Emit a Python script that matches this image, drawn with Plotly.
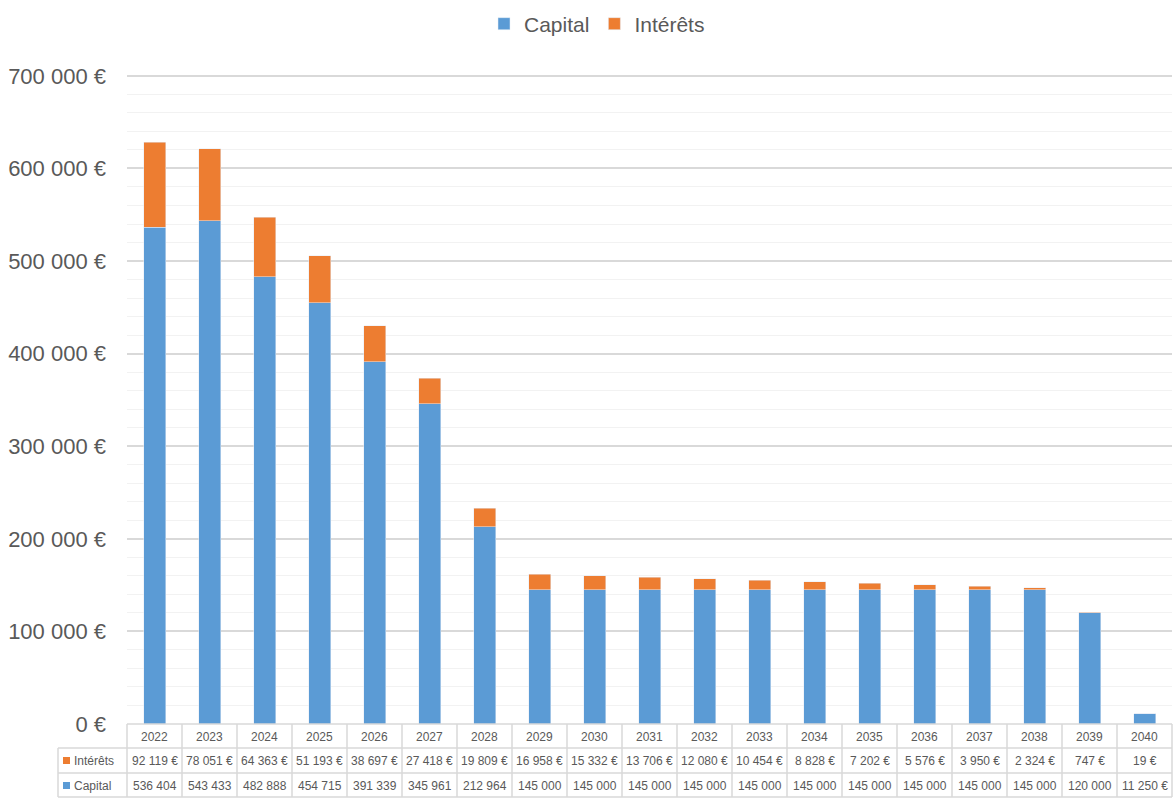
import plotly.graph_objects as go

years = [str(y) for y in range(2022, 2041)]
capital = [536404, 543433, 482888, 454715, 391339, 345961, 212964, 145000, 145000, 145000,
           145000, 145000, 145000, 145000, 145000, 145000, 145000, 120000, 11250]
interets = [92119, 78051, 64363, 51193, 38697, 27418, 19809, 16958, 15332, 13706,
            12080, 10454, 8828, 7202, 5576, 3950, 2324, 747, 19]
capital_euro_suffix = [False] * 18 + [True]

BLUE = "#5b9bd5"
ORANGE = "#ed7d31"
TXT = "#595959"
GRID = "#d9d9d9"
FONT = "Liberation Sans"

W, H = 1174, 798
L, R, T, B = 127, 2, 74, 74
PW, PH = W - L - R, H - T - B


def px(pix):
    return (pix - L) / PW


def py(pix):
    return (H - B - pix) / PH


def fmt(v):
    return f"{v:,}".replace(",", " ")


fig = go.Figure()
fig.add_trace(go.Bar(x=years, y=capital, name="Capital", marker_color=BLUE))
fig.add_trace(go.Bar(x=years, y=interets, name="Intérêts", marker_color=ORANGE))

shapes = []
annotations = []
line = dict(color=GRID, width=1.5)
# horizontal table lines
for yp, x0 in [(724, L), (748, 58), (773, 58), (797, 58)]:
    shapes.append(dict(type="line", xref="paper", yref="paper", x0=px(x0), x1=1,
                       y0=py(yp), y1=py(yp), line=line, layer="above"))
# vertical lines at category boundaries
n = len(years)
for k in range(n + 1):
    shapes.append(dict(type="line", xref="paper", yref="paper", x0=k / n, x1=k / n,
                       y0=py(724), y1=py(797), line=line, layer="above"))
shapes.append(dict(type="line", xref="paper", yref="paper", x0=px(58), x1=px(58),
                   y0=py(748), y1=py(797), line=line))
# legend keys in table
for yc, col in [(760.5, ORANGE), (785.5, BLUE)]:
    shapes.append(dict(type="rect", xref="paper", yref="paper", x0=px(63), x1=px(70),
                       y0=py(yc + 3.5), y1=py(yc - 3.5), fillcolor=col, line=dict(width=0)))

tf = dict(family=FONT, size=12, color=TXT)
for i, yr in enumerate(years):
    annotations.append(dict(x=i, y=py(737), xref="x", yref="paper", text=yr,
                            showarrow=False, font=tf, yanchor="middle"))
    annotations.append(dict(x=i, y=py(761), xref="x", yref="paper",
                            text=fmt(interets[i]) + " €", showarrow=False, font=tf,
                            yanchor="middle"))
    ctext = fmt(capital[i]) + (" €" if capital_euro_suffix[i] else "")
    annotations.append(dict(x=i, y=py(786), xref="x", yref="paper", text=ctext,
                            showarrow=False, font=tf, yanchor="middle"))
for yc, lab in [(761, "Intérêts"), (786, "Capital")]:
    annotations.append(dict(x=px(72), y=py(yc), xref="paper", yref="paper", text=lab,
                            showarrow=False, font=tf, xanchor="left", yanchor="middle"))

fig.update_layout(
    width=W, height=H,
    margin=dict(l=L, r=R, t=T, b=B, pad=0),
    barmode="stack", bargap=0.6,
    plot_bgcolor="white", paper_bgcolor="white",
    separators=", ",
    font=dict(family=FONT, color=TXT),
    legend=dict(orientation="h", x=px(597), xanchor="center", y=py(24), yanchor="middle",
                font=dict(family=FONT, size=21, color=TXT), traceorder="normal",
                itemwidth=30),
    shapes=shapes, annotations=annotations,
    xaxis=dict(type="category", showticklabels=False, showgrid=False, zeroline=False,
               showline=False, range=[-0.5, n - 0.5], fixedrange=True),
    yaxis=dict(range=[0, 702000], tick0=0, dtick=100000,
               tickformat=",d", ticksuffix=" €",
               showgrid=True, gridcolor=GRID, gridwidth=1.5, zeroline=False,
               tickfont=dict(family=FONT, size=22, color=TXT), ticklabelstandoff=20,
               minor=dict(dtick=20000, showgrid=True, gridcolor="#f2f2f2", gridwidth=1)),
)

fig.write_html("out.html")
